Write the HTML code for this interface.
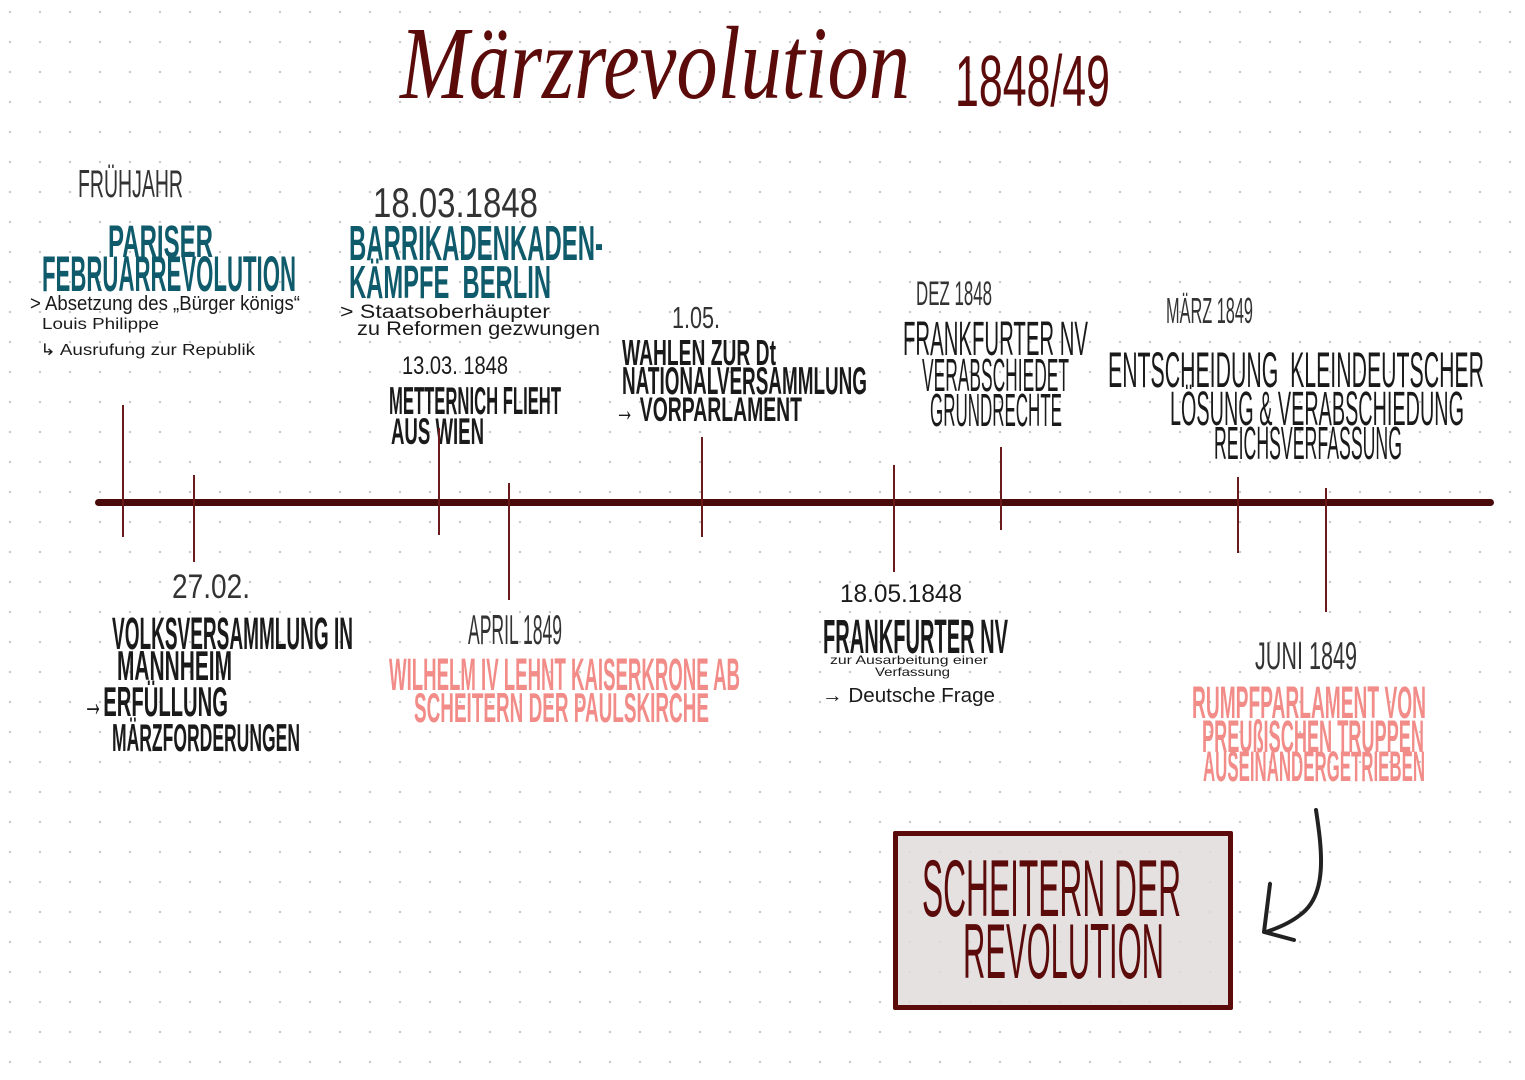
<!DOCTYPE html>
<html><head><meta charset="utf-8"><style>
html,body{margin:0;padding:0}
body{width:1525px;height:1080px;position:relative;overflow:hidden;background-color:#fff;
background-image:radial-gradient(circle,#c8c8c8 1px,transparent 1.4px);background-size:30px 30px;background-position:-5px -3px;
font-family:"Liberation Sans","DejaVu Sans",sans-serif}
.t{position:absolute;line-height:1;white-space:nowrap;color:#1a1a1a}
.t span{display:inline-block;transform-origin:0 0}
.b{font-weight:bold}
.l{font-weight:normal;color:#333}
.teal{color:#0f5b6b;font-weight:bold}
.pink{color:#f28c88;font-weight:bold}
.m{color:#5c0b0b}
.v{position:absolute;width:1.5px;background:#6a1a1a}
</style></head><body>
<div class="t m" style="left:400px;top:12px;width:510px;font-size:104px;font-family:'Liberation Serif',serif;font-style:italic"><span>Märzrevolution</span></div>
<div class="t m" style="left:955px;top:46px;width:155px;font-size:72px"><span>1848/49</span></div>

<div class="t l" style="left:78px;top:165px;width:105px;font-size:39px"><span>FRÜHJAHR</span></div>
<div class="t teal" style="left:108px;top:219px;width:105px;font-size:45px"><span>PARISER</span></div>
<div class="t teal" style="left:42px;top:249px;width:254px;font-size:50px"><span>FEBRUARREVOLUTION</span></div>
<div class="t" style="left:30px;top:294px;width:270px;font-size:20px"><span>&gt; Absetzung des „Bürger königs“</span></div>
<div class="t" style="left:42px;top:317px;width:117px;font-size:16px"><span>Louis Philippe</span></div>
<div class="t" style="left:40px;top:343px;width:215px;font-size:16px"><span>↳ Ausrufung zur Republik</span></div>

<div class="t l" style="left:373px;top:182px;width:165px;font-size:42px"><span>18.03.1848</span></div>
<div class="t teal" style="left:349px;top:220px;width:254px;font-size:49px"><span>BARRIKADENKADEN-</span></div>
<div class="t teal" style="left:349px;top:259px;width:202px;font-size:46px"><span>KÄMPFE&nbsp; BERLIN</span></div>
<div class="t" style="left:340px;top:303px;width:210px;font-size:19px"><span>&gt; Staatsoberhäupter</span></div>
<div class="t" style="left:357px;top:320px;width:243px;font-size:19px"><span>zu Reformen gezwungen</span></div>
<div class="t" style="left:402px;top:354px;width:106px;font-size:25px"><span>13.03. 1848</span></div>
<div class="t b" style="left:389px;top:382px;width:172px;font-size:39px"><span>METTERNICH FLIEHT</span></div>
<div class="t b" style="left:391px;top:413px;width:93px;font-size:37px"><span>AUS WIEN</span></div>

<div class="t l" style="left:672px;top:302px;width:48px;font-size:31px"><span>1.05.</span></div>
<div class="t b" style="left:622px;top:335px;width:154px;font-size:36px"><span>WAHLEN ZUR Dt</span></div>
<div class="t b" style="left:622px;top:362px;width:245px;font-size:39px"><span>NATIONALVERSAMMLUNG</span></div>
<div class="t b" style="left:615px;top:393px;width:187px;font-size:34px"><span>→ VORPARLAMENT</span></div>

<div class="t l" style="left:916px;top:277px;width:76px;font-size:34px"><span>DEZ 1848</span></div>
<div class="t" style="left:903px;top:316px;width:185px;font-size:48px"><span>FRANKFURTER NV</span></div>
<div class="t" style="left:922px;top:352px;width:147px;font-size:46px"><span>VERABSCHIEDET</span></div>
<div class="t" style="left:930px;top:387px;width:132px;font-size:46px"><span>GRUNDRECHTE</span></div>

<div class="t l" style="left:1166px;top:293px;width:87px;font-size:36px"><span>MÄRZ 1849</span></div>
<div class="t" style="left:1108px;top:345px;width:376px;font-size:50px"><span>ENTSCHEIDUNG&nbsp; KLEINDEUTSCHER</span></div>
<div class="t" style="left:1170px;top:386px;width:294px;font-size:48px"><span>LÖSUNG &amp; VERABSCHIEDUNG</span></div>
<div class="t" style="left:1214px;top:420px;width:188px;font-size:46px"><span>REICHSVERFASSUNG</span></div>

<div style="position:absolute;left:95px;top:499px;width:1399px;height:7px;border-radius:4px;background:#4a0a0a"></div>
<div class="v" style="left:122px;top:405px;height:132px"></div>
<div class="v" style="left:193px;top:475px;height:87px"></div>
<div class="v" style="left:438px;top:428px;height:107px"></div>
<div class="v" style="left:508px;top:483px;height:117px"></div>
<div class="v" style="left:701px;top:437px;height:100px"></div>
<div class="v" style="left:893px;top:465px;height:107px"></div>
<div class="v" style="left:1000px;top:447px;height:83px"></div>
<div class="v" style="left:1237px;top:477px;height:76px"></div>
<div class="v" style="left:1325px;top:488px;height:124px"></div>

<div class="t l" style="left:172px;top:570px;width:78px;font-size:34px"><span>27.02.</span></div>
<div class="t b" style="left:112px;top:611px;width:241px;font-size:45px"><span>VOLKSVERSAMMLUNG IN</span></div>
<div class="t b" style="left:117px;top:645px;width:115px;font-size:42px"><span>MANNHEIM</span></div>
<div class="t b" style="left:83px;top:681px;width:145px;font-size:42px"><span>→ERFÜLLUNG</span></div>
<div class="t b" style="left:112px;top:719px;width:188px;font-size:39px"><span>MÄRZFORDERUNGEN</span></div>

<div class="t l" style="left:468px;top:609px;width:94px;font-size:42px"><span>APRIL 1849</span></div>
<div class="t pink" style="left:389px;top:652px;width:351px;font-size:45px"><span>WILHELM IV LEHNT KAISERKRONE AB</span></div>
<div class="t pink" style="left:414px;top:687px;width:295px;font-size:42px"><span>SCHEITERN DER PAULSKIRCHE</span></div>

<div class="t" style="left:840px;top:582px;width:122px;font-size:25px"><span>18.05.1848</span></div>
<div class="t b" style="left:823px;top:614px;width:185px;font-size:48px"><span>FRANKFURTER NV</span></div>
<div class="t" style="left:830px;top:654px;width:158px;font-size:12px"><span>zur Ausarbeitung einer</span></div>
<div class="t" style="left:875px;top:666px;width:75px;font-size:12px"><span>Verfassung</span></div>
<div class="t" style="left:822px;top:686px;width:173px;font-size:20px"><span>→ Deutsche Frage</span></div>

<div class="t l" style="left:1255px;top:637px;width:102px;font-size:39px"><span>JUNI 1849</span></div>
<div class="t pink" style="left:1192px;top:680px;width:234px;font-size:45px"><span>RUMPFPARLAMENT VON</span></div>
<div class="t pink" style="left:1202px;top:714px;width:222px;font-size:45px"><span>PREUßISCHEN TRUPPEN</span></div>
<div class="t pink" style="left:1203px;top:746px;width:222px;font-size:43px"><span>AUSEINANDERGETRIEBEN</span></div>

<div style="position:absolute;left:893px;top:831px;width:330px;height:169px;border:5px solid #5c0b0b;border-radius:2px;background:rgba(225,220,220,0.85)"></div>
<div class="t m" style="left:922px;top:849px;width:259px;font-size:81px"><span>SCHEITERN DER</span></div>
<div class="t m" style="left:963px;top:912px;width:201px;font-size:78px"><span>REVOLUTION</span></div>

<svg style="position:absolute;left:0;top:0" width="1525" height="1080">
<path d="M1316 810 C1322 850 1328 895 1300 915 C1290 923 1278 928 1266 932" fill="none" stroke="#222" stroke-width="4" stroke-linecap="round"/>
<path d="M1270 884 L1264 932 L1294 940" fill="none" stroke="#222" stroke-width="4" stroke-linecap="round" stroke-linejoin="round"/>
</svg>
<script>
document.querySelectorAll('.t').forEach(function(d){var s=d.firstElementChild;var w=parseFloat(d.style.width);var a=s.getBoundingClientRect().width;if(a>0)s.style.transform='scaleX('+(w/a)+')';});
</script>
</body></html>
